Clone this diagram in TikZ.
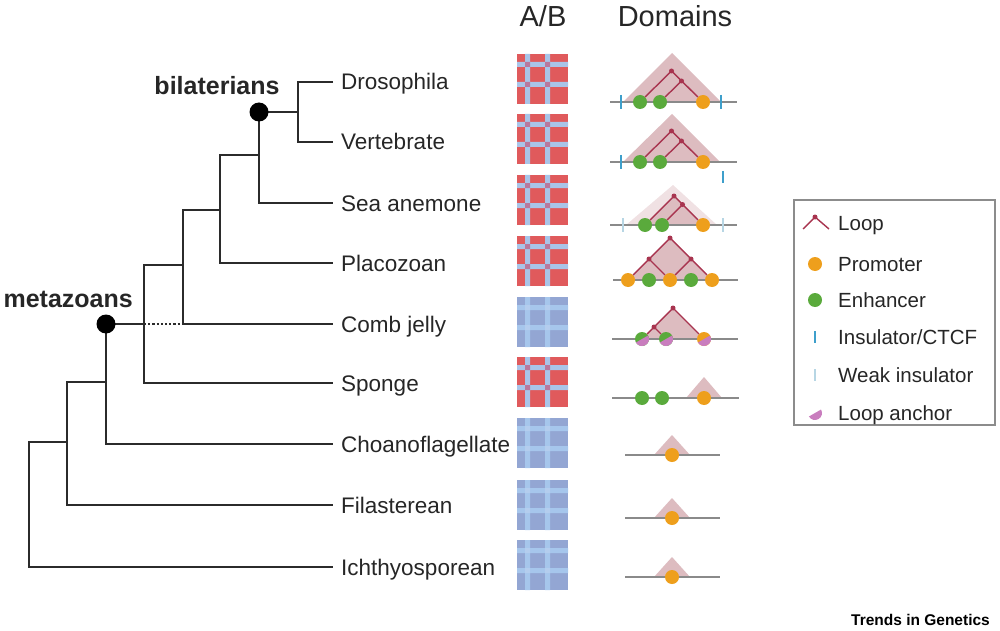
\documentclass[tikz,border=0pt]{standalone}
\usepackage{fontspec}
\setmainfont{Liberation Sans}
\usetikzlibrary{positioning}

\definecolor{treeline}{HTML}{2B2B2B}
\definecolor{aRed}{HTML}{E05A5C}
\definecolor{aBlue}{HTML}{A9C4E8}
\definecolor{aMix}{HTML}{B8789E}
\definecolor{bBase}{HTML}{93A6D3}
\definecolor{bStripe}{HTML}{A6C6EC}
\definecolor{bMix}{HTML}{B4CDEE}
\definecolor{domPink}{HTML}{DDBCC0}
\definecolor{loopRed}{HTML}{A8344F}
\definecolor{enhGreen}{HTML}{5AAA3C}
\definecolor{promOrange}{HTML}{EE9F1C}
\definecolor{insBlue}{HTML}{3E9FCB}
\definecolor{weakBlue}{HTML}{B7D6E4}
\definecolor{anchorPink}{HTML}{C97DBE}
\definecolor{chromGray}{HTML}{8A8A8A}

% A/B map: name, centre y, base, stripe, crossing
\newcommand{\hicmap}[5]{%
  \node[hic, fill=#3] (#1) at (542.5,#2) {};
  \fill[#4] (525,#2-25) rectangle (530,#2+25)
            (545,#2-25) rectangle (550,#2+25)
            (517,#2-17) rectangle (568,#2-12)
            (517,#2+3) rectangle (568,#2+8);
  \fill[#5] (525,#2-17) rectangle (530,#2-12)
            (545,#2-17) rectangle (550,#2-12)
            (525,#2+3) rectangle (530,#2+8)
            (545,#2+3) rectangle (550,#2+8);
}
% loop anchor half disc
\newcommand{\anchorhalf}[1]{%
  \fill[anchorPink] (#1) ++(-30:7) arc[start angle=-30, end angle=150, radius=7] -- cycle;
}

\begin{document}
\begin{tikzpicture}[x=1pt,y=-1pt,
  branch/.style={treeline, line width=2.2pt},
  dot/.style={circle, fill=black, inner sep=0pt, minimum size=19pt},
  leaf/.style={anchor=west, inner xsep=8pt, inner ysep=0pt, text height=16pt, text depth=0pt,
    font=\fontsize{22.5}{27}\selectfont, text=black!85},
  clade/.style={font=\bfseries\fontsize{25}{30}\selectfont, text=black!85, inner sep=0pt},
  head/.style={anchor=base, font=\fontsize{29}{34}\selectfont, text=black!85, inner sep=0pt},
  hic/.style={minimum width=51pt, minimum height=50pt, inner sep=0pt},
  chrom/.style={chromGray, line width=2.5pt},
  dom/.style={fill=domPink},
  lp/.style={loopRed, line width=1.4pt},
  apex/.style={circle, fill=loopRed, inner sep=0pt, minimum size=5pt},
  enh/.style={circle, fill=enhGreen, inner sep=0pt, minimum size=14pt},
  prom/.style={circle, fill=promOrange, inner sep=0pt, minimum size=14pt},
  ins/.style={insBlue, line width=2.5pt},
  weak/.style={weakBlue, line width=2.5pt},
  legbox/.style={draw=black!45, line width=1.2pt, minimum width=201pt, minimum height=225pt},
  legtext/.style={anchor=base west, inner sep=0pt, font=\fontsize{20.5}{24}\selectfont, text=black!85}]
\useasboundingbox (0,0) rectangle (1000,631);

% headers
\node[head] (h_ab) at (543,27) {A/B};
\node[head] (h_dom) at (675,27) {Domains};

% leaves
\node[leaf] (l_dros) at (333,82) {Drosophila};
\node[leaf] (l_vert) at (333,142) {Vertebrate};
\node[leaf] (l_sea) at (333,203) {Sea anemone};
\node[leaf] (l_plac) at (333,263) {Placozoan};
\node[leaf] (l_comb) at (333,324) {Comb jelly};
\node[leaf] (l_spon) at (333,383) {Sponge};
\node[leaf] (l_choa) at (333,444) {Choanoflagellate};
\node[leaf] (l_fila) at (333,505) {Filasterean};
\node[leaf] (l_icht) at (333,567) {Ichthyosporean};

% tree
\coordinate (n_bil) at (259,112);
\coordinate (n_met) at (106,324);
\coordinate (n_dv) at (298,112);
\coordinate (n_3) at (220,155);
\coordinate (n_4) at (183,210);
\coordinate (n_5) at (144,265);
\coordinate (n_7) at (67,382);
\coordinate (n_8) at (29,442);

\draw[branch] (l_dros.west) -| (n_dv) |- (l_vert.west);
\draw[branch] (n_bil) -- (n_dv);
\draw[branch] (n_bil) |- (l_sea.west);
\draw[branch] (n_bil |- n_3) -- (n_3) |- (l_plac.west);
\draw[branch] (n_3 |- n_4) -- (n_4) |- (l_comb.west);
\draw[branch] (n_4 |- n_5) -- (n_5) |- (l_spon.west);
\draw[branch] (n_met) -- (n_5 |- n_met);
\draw[branch, dotted] (n_5 |- n_met) -- (n_4 |- n_met);
\draw[branch] (n_met) |- (l_choa.west);
\draw[branch] (n_met |- n_7) -- (n_7) |- (l_fila.west);
\draw[branch] (n_7 |- n_8) -- (n_8) |- (l_icht.west);

\node[dot] (d_bil) at (n_bil) {};
\node[dot] (d_met) at (n_met) {};
\node[clade, anchor=base] (t_bil) at (217,95) {bilaterians};
\node[clade, anchor=base east] (t_met) at (133,307) {metazoans};

% A/B compartments
\hicmap{m_1}{79}{aRed}{aBlue}{aMix}
\hicmap{m_2}{139}{aRed}{aBlue}{aMix}
\hicmap{m_3}{200}{aRed}{aBlue}{aMix}
\hicmap{m_4}{261}{aRed}{aBlue}{aMix}
\hicmap{m_5}{322}{bBase}{bStripe}{bMix}
\hicmap{m_6}{382}{aRed}{aBlue}{aMix}
\hicmap{m_7}{443}{bBase}{bStripe}{bMix}
\hicmap{m_8}{505}{bBase}{bStripe}{bMix}
\hicmap{m_9}{565}{bBase}{bStripe}{bMix}

% Drosophila
\fill[dom] (623,102) -- (672,53) -- (721,102) -- cycle;
\draw[chrom] (610,102) -- (737,102);
\draw[ins] (621,95) -- (621,109) (721,95) -- (721,109);
\node[enh] (e_1a) at (640,102) {};
\node[enh] (e_1b) at (660,102) {};
\node[prom] (p_1) at (703,102) {};
\node[apex] (a_1a) at (671.5,71) {};
\node[apex] (a_1b) at (681.5,81) {};
\draw[lp] (e_1a) -- (a_1a.center) -- (p_1) (e_1b) -- (a_1b.center) -- (p_1);

% Vertebrate
\fill[dom] (623,162) -- (672,114) -- (720,162) -- cycle;
\draw[chrom] (610,162) -- (737,162);
\draw[ins] (621,155) -- (621,169) (723,171) -- (723,183);
\node[enh] (e_2a) at (640,162) {};
\node[enh] (e_2b) at (660,162) {};
\node[prom] (p_2) at (703,162) {};
\node[apex] (a_2a) at (671.5,131) {};
\node[apex] (a_2b) at (681.5,141) {};
\draw[lp] (e_2a) -- (a_2a.center) -- (p_2) (e_2b) -- (a_2b.center) -- (p_2);

% Sea anemone
\fill[dom, opacity=.45] (626,225) -- (673,185) -- (717,225) -- cycle;
\fill[dom] (645,225) -- (674,196) -- (703,225) -- cycle;
\draw[chrom] (610,225) -- (737,225);
\draw[weak] (623,218) -- (623,232) (723,218) -- (723,232);
\node[enh] (e_3a) at (645,225) {};
\node[enh] (e_3b) at (662,225) {};
\node[prom] (p_3) at (703,225) {};
\node[apex] (a_3a) at (674,196) {};
\node[apex] (a_3b) at (682.5,204.5) {};
\draw[lp] (e_3a) -- (a_3a.center) -- (p_3) (e_3b) -- (a_3b.center) -- (p_3);

% Placozoan
\fill[dom] (628,280) -- (670,238) -- (712,280) -- cycle;
\draw[chrom] (613,280) -- (738,280);
\node[prom] (p_4a) at (628,280) {};
\node[enh] (e_4a) at (649,280) {};
\node[prom] (p_4b) at (670,280) {};
\node[enh] (e_4b) at (691,280) {};
\node[prom] (p_4c) at (712,280) {};
\node[apex] (a_4a) at (670,238) {};
\node[apex] (a_4b) at (649,259) {};
\node[apex] (a_4c) at (691,259) {};
\draw[lp] (p_4a) -- (a_4b.center) -- (a_4a.center) -- (a_4c.center) -- (p_4c);
\draw[lp] (a_4b.center) -- (p_4b) (a_4c.center) -- (p_4b);

% Comb jelly
\fill[dom] (642,339) -- (673,308) -- (704,339) -- cycle;
\draw[chrom] (612,339) -- (738,339);
\node[enh] (e_5a) at (642,339) {};
\node[enh] (e_5b) at (666,339) {};
\node[prom] (p_5) at (704,339) {};
\anchorhalf{e_5a}
\anchorhalf{e_5b}
\anchorhalf{p_5}
\node[apex] (a_5a) at (673,308) {};
\node[apex] (a_5b) at (654,327) {};
\draw[lp] (e_5a) -- (a_5a.center) -- (p_5) (e_5a) -- (a_5b.center) -- (e_5b);

% Sponge
\fill[dom] (686,398) -- (704,377) -- (722,398) -- cycle;
\draw[chrom] (612,398) -- (739,398);
\node[enh] (e_6a) at (642,398) {};
\node[enh] (e_6b) at (662,398) {};
\node[prom] (p_6) at (704,398) {};

% Choanoflagellate, Filasterean, Ichthyosporean
\foreach \b [count=\i from 7] in {455,518,577}{
  \fill[dom] (654,\b) -- (672,\b-20) -- (690,\b) -- cycle;
  \draw[chrom] (625,\b) -- (720,\b);
  \node[prom] (p_\i) at (672,\b) {};
}

% legend
\node[legbox] (legend) at (894.5,312.5) {};
\node[apex] (a_L) at (815,217) {};
\draw[lp] (803,229) -- (a_L.center) -- (829,229);
\node[prom] (p_L) at (815,264) {};
\node[enh] (e_L) at (815,300) {};
\draw[ins] (815,331) -- (815,343);
\draw[weak] (815,369) -- (815,381);
\coordinate (c_L) at (815,413);
\anchorhalf{c_L}
\node[legtext] (t_loop) at (838,230) {Loop};
\node[legtext] (t_prom) at (838,271) {Promoter};
\node[legtext] (t_enh) at (838,307) {Enhancer};
\node[legtext] (t_ins) at (838,344) {Insulator/CTCF};
\node[legtext] (t_weak) at (838,382) {Weak insulator};
\node[legtext] (t_anc) at (838,420) {Loop anchor};

\node[anchor=base east, inner sep=0pt, font=\bfseries\fontsize{15.5}{18}\selectfont] (credit) at (990,625) {Trends in Genetics};
\end{tikzpicture}
\end{document}
